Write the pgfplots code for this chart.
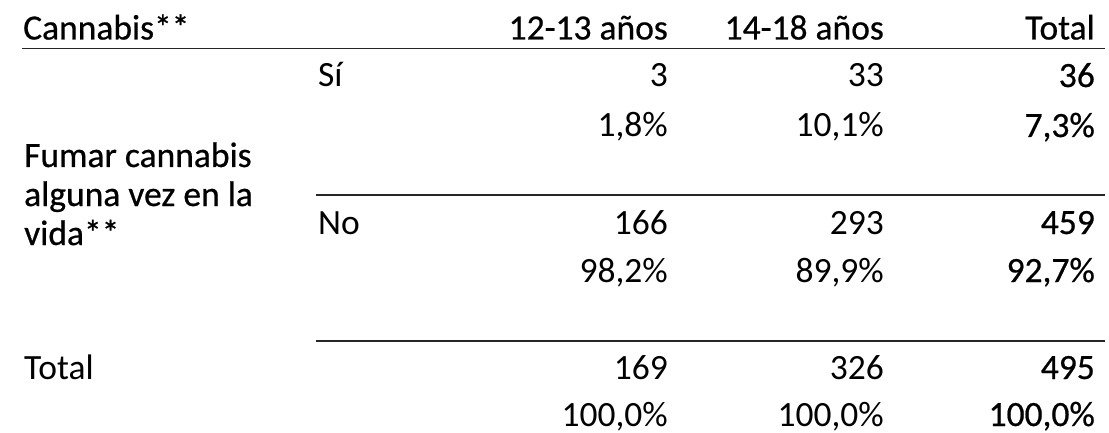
\documentclass[border=0pt]{standalone}
\usepackage{fontspec}
\setmainfont{Carlito}
\newfontfamily\semib{Carlito}[FakeBold=0.6]
\usepackage{pgfplots}
\usepackage{pgfplotstable}
\pgfplotsset{compat=1.18}

% x = right edge of column (left edge for text labels), y = baseline, from top
\pgfplotstableread{
x y label
668 39.5 {12-13 años}
884 39.5 {14-18 años}
1095 39.5 {Total}
1095 87 {36}
1095 137 {7,3\%}
1095 234 {459}
1095 282 {92,7\%}
1095 379 {495}
1095 426 {100,0\%}
}\regright

\pgfplotstableread{
x y label
668 87 {3}
884 87 {33}
668 137 {1,8\%}
884 137 {10,1\%}
668 234 {166}
884 234 {293}
668 282 {98,2\%}
884 282 {89,9\%}
668 379 {169}
884 379 {326}
668 426 {100,0\%}
884 426 {100,0\%}
}\lightright

\pgfplotstableread{
x y label
23 39.5 {Cannabis**}
24 167 {Fumar cannabis}
24 206 {alguna vez en la}
24 245 {vida**}
}\regleft

\pgfplotstableread{
x y label
318 87 {Sí}
318 234 {No}
24 379 {Total}
}\lightleft

\begin{document}
\begin{tikzpicture}
\begin{axis}[
    width=1109pt, height=433pt, scale only axis,
    xmin=0, xmax=1109, ymin=0, ymax=433,
    y dir=reverse,
    hide axis,
    clip=false,
    point meta=explicit symbolic,
    every node near coord/.style={inner sep=0pt, font=\fontsize{35.5}{42}\selectfont, text=black},
  ]
% page frame (invisible), keeps the picture at full size
\addplot[draw=none, forget plot] coordinates {(0,0) (1109,433)};
% rules
\addplot[black!85, line width=1.4pt] coordinates {(22,48.5) (1105,48.5)};
\addplot[black!85, line width=1.4pt] coordinates {(316,195) (1105,195)};
\addplot[black!85, line width=1.4pt] coordinates {(316,341) (1105,341)};

\addplot[draw=none, nodes near coords,
  every node near coord/.append style={anchor=base east, font=\fontsize{35.5}{42}\selectfont\semib}]
  table[x=x, y=y, meta=label] {\regright};
\addplot[draw=none, nodes near coords,
  every node near coord/.append style={anchor=base east}]
  table[x=x, y=y, meta=label] {\lightright};
\addplot[draw=none, nodes near coords,
  every node near coord/.append style={anchor=base west, font=\fontsize{35.5}{42}\selectfont\semib}]
  table[x=x, y=y, meta=label] {\regleft};
\addplot[draw=none, nodes near coords,
  every node near coord/.append style={anchor=base west}]
  table[x=x, y=y, meta=label] {\lightleft};
\end{axis}
\end{tikzpicture}
\end{document}
